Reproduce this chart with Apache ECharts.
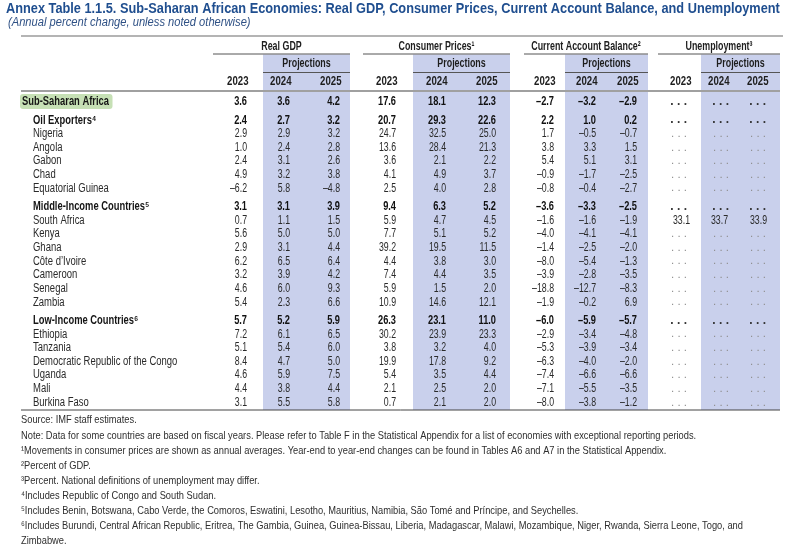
<!DOCTYPE html>
<html><head><meta charset="utf-8">
<script src="https://cdn.jsdelivr.net/npm/echarts@6/dist/echarts.min.js"></script>
<style>html,body{margin:0;padding:0;background:#fff}#c{width:800px;height:550px}</style>
</head><body><div id="c"></div><script>
// ---------- data ----------
const titleText = 'Annex Table 1.1.5. Sub-Saharan African Economies: Real GDP, Consumer Prices, Current Account Balance, and Unemployment';
const subtitleText = '(Annual percent change, unless noted otherwise)';
const groupHeaders = ['Real GDP', 'Consumer Prices¹', 'Current Account Balance²', 'Unemployment³'];
const projLabel = 'Projections';
const years = ['2023', '2024', '2025'];
const rowNames = ['Sub-Saharan Africa', 'Oil Exporters⁴', 'Nigeria', 'Angola', 'Gabon', 'Chad', 'Equatorial Guinea',
  'Middle-Income Countries⁵', 'South Africa', 'Kenya', 'Ghana', 'Côte d\u2019Ivoire', 'Cameroon', 'Senegal', 'Zambia',
  'Low-Income Countries⁶', 'Ethiopia', 'Tanzania', 'Democratic Republic of the Congo', 'Uganda', 'Mali', 'Burkina Faso'];
const rowKinds = ['region', 'group', 'c', 'c', 'c', 'c', 'c', 'group', 'c', 'c', 'c', 'c', 'c', 'c', 'c', 'group', 'c', 'c', 'c', 'c', 'c', 'c'];
const gdp2023 = [3.6, 2.4, 2.9, 1.0, 2.4, 4.9, -6.2, 3.1, 0.7, 5.6, 2.9, 6.2, 3.2, 4.6, 5.4, 5.7, 7.2, 5.1, 8.4, 4.6, 4.4, 3.1];
const gdp2024 = [3.6, 2.7, 2.9, 2.4, 3.1, 3.2, 5.8, 3.1, 1.1, 5.0, 3.1, 6.5, 3.9, 6.0, 2.3, 5.2, 6.1, 5.4, 4.7, 5.9, 3.8, 5.5];
const gdp2025 = [4.2, 3.2, 3.2, 2.8, 2.6, 3.8, -4.8, 3.9, 1.5, 5.0, 4.4, 6.4, 4.2, 9.3, 6.6, 5.9, 6.5, 6.0, 5.0, 7.5, 4.4, 5.8];
const cpi2023 = [17.6, 20.7, 24.7, 13.6, 3.6, 4.1, 2.5, 9.4, 5.9, 7.7, 39.2, 4.4, 7.4, 5.9, 10.9, 26.3, 30.2, 3.8, 19.9, 5.4, 2.1, 0.7];
const cpi2024 = [18.1, 29.3, 32.5, 28.4, 2.1, 4.9, 4.0, 6.3, 4.7, 5.1, 19.5, 3.8, 4.4, 1.5, 14.6, 23.1, 23.9, 3.2, 17.8, 3.5, 2.5, 2.1];
const cpi2025 = [12.3, 22.6, 25.0, 21.3, 2.2, 3.7, 2.8, 5.2, 4.5, 5.2, 11.5, 3.0, 3.5, 2.0, 12.1, 11.0, 23.3, 4.0, 9.2, 4.4, 2.0, 2.0];
const cab2023 = [-2.7, 2.2, 1.7, 3.8, 5.4, -0.9, -0.8, -3.6, -1.6, -4.0, -1.4, -8.0, -3.9, -18.8, -1.9, -6.0, -2.9, -5.3, -6.3, -7.4, -7.1, -8.0];
const cab2024 = [-3.2, 1.0, -0.5, 3.3, 5.1, -1.7, -0.4, -3.3, -1.6, -4.1, -2.5, -5.4, -2.8, -12.7, -0.2, -5.9, -3.4, -3.9, -4.0, -6.6, -5.5, -3.8];
const cab2025 = [-2.9, 0.2, -0.7, 1.5, 3.1, -2.5, -2.7, -2.5, -1.9, -4.1, -2.0, -1.3, -3.5, -8.3, 6.9, -5.7, -4.8, -3.4, -2.0, -6.6, -3.5, -1.2];
const unemp2023 = [null, null, null, null, null, null, null, null, 33.1, null, null, null, null, null, null, null, null, null, null, null, null, null];
const unemp2024 = [null, null, null, null, null, null, null, null, 33.7, null, null, null, null, null, null, null, null, null, null, null, null, null];
const unemp2025 = [null, null, null, null, null, null, null, null, 33.9, null, null, null, null, null, null, null, null, null, null, null, null, null];
const footnotes = [
  'Source: IMF staff estimates.',
  'Note: Data for some countries are based on fiscal years. Please refer to Table F in the Statistical Appendix for a list of economies with exceptional reporting periods.',
  '¹Movements in consumer prices are shown as annual averages. Year-end to year-end changes can be found in Tables A6 and A7 in the Statistical Appendix.',
  '²Percent of GDP.',
  '³Percent. National definitions of unemployment may differ.',
  '⁴Includes Republic of Congo and South Sudan.',
  '⁵Includes Benin, Botswana, Cabo Verde, the Comoros, Eswatini, Lesotho, Mauritius, Namibia, São Tomé and Príncipe, and Seychelles.',
  '⁶Includes Burundi, Central African Republic, Eritrea, The Gambia, Guinea, Guinea-Bissau, Liberia, Madagascar, Malawi, Mozambique, Niger, Rwanda, Sierra Leone, Togo, and',
  'Zimbabwe.'
];

// ---------- layout / style ----------
const FONT = "'Liberation Sans','Noto Sans',sans-serif";
const BLUE = '#1f4e8f';
const SHADE = '#c9d0ec';
const L = {
  colRight: [[247, 290, 340], [396, 446, 496], [554, 596, 637], [690, 728, 767]],
  dotsRight: [[247, 290, 340], [396, 446, 496], [554, 596, 637], [687, 729, 766]],
  groupSpan: [[213, 350], [363, 510], [524, 648], [658, 780]],
  projSpan: [[263, 350], [413, 510], [565, 648], [701, 780]],
  tableLeft: 21, tableRight: 780,
  titleX: 6, titleY: 9, subX: 8, subY: 22.5,
  topLine: 36, groupY: 46.5, groupLine: 54, projY: 64, projLine: 72.5, yearY: 81.5, headLine: 91,
  bottomLine: 410, row0: 101.7, rowStep: 13.65, groupGap: 4.7,
  labelX0: 22, labelX1: 33,
  footX: 21, footY: [420, 436, 450.5, 465.5, 481, 496, 511, 526, 540.5]
};
const ST = {
  title: { size: 14.5, weight: 'bold', style: 'normal', sx: 0.88, color: BLUE },
  sub: { size: 12, weight: 'normal', style: 'italic', sx: 0.93, color: '#2f5185' },
  head: { size: 12.5, weight: 'bold', style: 'normal', sx: 0.71, color: '#1e1e1e' },
  year: { size: 12.5, weight: 'bold', style: 'normal', sx: 0.77, color: '#1e1e1e' },
  boldLabel: { size: 12.5, weight: 'bold', style: 'normal', sx: 0.75, color: '#151515' },
  label: { size: 12, weight: 'normal', style: 'normal', sx: 0.79, color: '#2a2a2a' },
  boldNum: { size: 12.5, weight: 'bold', style: 'normal', sx: 0.74, color: '#111' },
  num: { size: 12, weight: 'normal', style: 'normal', sx: 0.73, color: '#2a2a2a' },
  boldDots: { size: 12, weight: 'bold', style: 'normal', sx: 1, color: '#333' },
  dots: { size: 11.5, weight: 'normal', style: 'normal', sx: 1, color: '#8f8f8f' },
  foot: { size: 11.5, weight: 'normal', style: 'normal', sx: 0.81, color: '#2e2e2e' }
};
const blocks = [[gdp2023, gdp2024, gdp2025], [cpi2023, cpi2024, cpi2025], [cab2023, cab2024, cab2025], [unemp2023, unemp2024, unemp2025]];

function rowY(i) {
  let g = 0;
  for (let k = 0; k <= i; k++) if (rowKinds[k] === 'group') g++;
  return L.row0 + L.rowStep * i + L.groupGap * g;
}
function fmt(v) {
  if (v == null) return '. . .';
  return (v < 0 ? '\u2013' : '') + Math.abs(v).toFixed(1);
}

// ---------- build marks ----------
const rects = [];
L.projSpan.forEach(s => rects.push({ v: [s[0], L.groupLine + 0.5, s[1], L.bottomLine], fill: SHADE, r: 0 }));
rects.push({ v: [20, 94, 112.5, 109], fill: '#c6e0b5', r: 3 });

const lines = [];
lines.push({ v: [L.tableLeft, L.topLine, L.tableRight + 3, L.topLine], stroke: '#6b6b6b', w: 1.2 });
L.groupSpan.forEach(s => lines.push({ v: [s[0], L.groupLine, s[1], L.groupLine], stroke: '#555', w: 1 }));
L.projSpan.forEach(s => lines.push({ v: [s[0], L.projLine, s[1], L.projLine], stroke: '#555', w: 1 }));
lines.push({ v: [L.tableLeft, L.headLine, L.tableRight, L.headLine], stroke: '#a0a0a0', w: 2 });
lines.push({ v: [L.tableLeft, L.bottomLine, L.tableRight, L.bottomLine], stroke: '#444', w: 1 });

const texts = [];
texts.push({ x: L.titleX, y: L.titleY, text: titleText, align: 'left', st: ST.title });
texts.push({ x: L.subX, y: L.subY, text: subtitleText, align: 'left', st: ST.sub });
groupHeaders.forEach((h, g) => texts.push({ x: (L.groupSpan[g][0] + L.groupSpan[g][1]) / 2, y: L.groupY, text: h, align: 'center', st: ST.head }));
L.projSpan.forEach(s => texts.push({ x: (s[0] + s[1]) / 2, y: L.projY, text: projLabel, align: 'center', st: ST.head }));
L.colRight.forEach(cols => cols.forEach((x, j) => texts.push({ x: x + 1.5, y: L.yearY, text: years[j], align: 'right', st: ST.year })));
rowNames.forEach((name, i) => {
  const kind = rowKinds[i];
  const bold = kind !== 'c';
  texts.push({ x: kind === 'region' ? L.labelX0 : L.labelX1, y: rowY(i), text: name, align: 'left', st: bold ? ST.boldLabel : ST.label });
  blocks.forEach((blk, b) => blk.forEach((arr, j) => {
    const v = arr[i];
    const isDots = v == null;
    texts.push({
      x: isDots ? L.dotsRight[b][j] : L.colRight[b][j], y: rowY(i), text: fmt(v), align: 'right',
      st: isDots ? (bold ? ST.boldDots : ST.dots) : (bold ? ST.boldNum : ST.num)
    });
  }));
});
footnotes.forEach((t, i) => texts.push({ x: L.footX, y: L.footY[i], text: t, align: 'left', st: ST.foot }));

// ---------- chart ----------
const chart = echarts.init(document.getElementById('c'), null, { renderer: 'canvas' });
chart.setOption({
  animation: false,
  backgroundColor: '#ffffff',
  grid: { left: 0, right: 0, top: 0, bottom: 0 },
  xAxis: { type: 'value', min: 0, max: 800, show: false },
  yAxis: { type: 'value', min: 0, max: 550, inverse: true, show: false },
  series: [
    {
      type: 'custom', name: 'shading', silent: true, z: 1,
      data: rects.map(r => r.v),
      renderItem: (p, api) => {
        const a = api.coord([api.value(0), api.value(1)]);
        const b = api.coord([api.value(2), api.value(3)]);
        const r = rects[p.dataIndex];
        return { type: 'rect', shape: { x: a[0], y: a[1], width: b[0] - a[0], height: b[1] - a[1], r: r.r }, style: { fill: r.fill } };
      }
    },
    {
      type: 'custom', name: 'rules', silent: true, z: 2,
      data: lines.map(l => l.v),
      renderItem: (p, api) => {
        const a = api.coord([api.value(0), api.value(1)]);
        const b = api.coord([api.value(2), api.value(3)]);
        const l = lines[p.dataIndex];
        return { type: 'line', shape: { x1: a[0], y1: a[1], x2: b[0], y2: b[1] }, style: { stroke: l.stroke, lineWidth: l.w } };
      }
    },
    {
      type: 'custom', name: 'cells', silent: true, z: 3,
      data: texts.map(t => [t.x, t.y]),
      renderItem: (p, api) => {
        const c = api.coord([api.value(0), api.value(1)]);
        const t = texts[p.dataIndex];
        const s = t.st;
        return {
          type: 'text', x: c[0], y: c[1], scaleX: s.sx, scaleY: 1,
          style: { text: t.text, fill: s.color, font: `${s.style} ${s.weight} ${s.size}px ${FONT}`, align: t.align, verticalAlign: 'middle' }
        };
      }
    }
  ]
});
</script></body></html>
